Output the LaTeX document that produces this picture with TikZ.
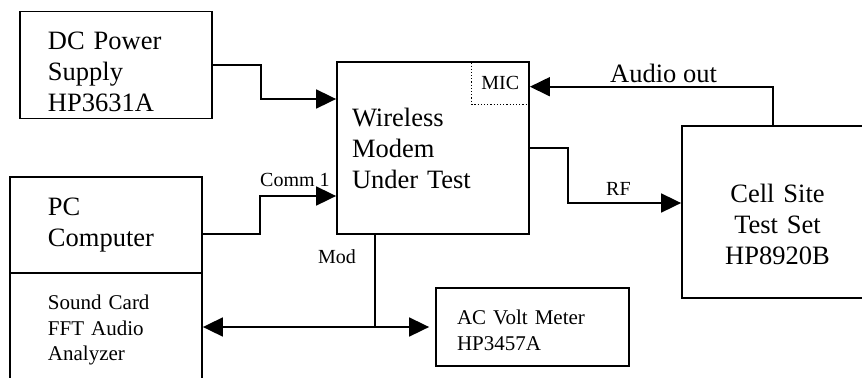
\documentclass[tikz,border=0pt]{standalone}
\usepackage{fontspec}
\setmainfont{Liberation Serif}
\usetikzlibrary{arrows.meta}
\newcommand{\boxfont}{\fontsize{26.5bp}{31bp}\selectfont}
\newcommand{\subfont}{\fontsize{21bp}{25.5bp}\selectfont}
\newcommand{\linkfont}{\fontsize{20bp}{24bp}\selectfont}
\tikzset{
  unit/.style={draw=black,line width=1.8bp,align=left,inner ysep=0pt,font=\boxfont},
  subunit/.style={unit,font=\subfont},
  micport/.style={draw=black,line width=1.2bp,dotted,inner sep=0pt,minimum width=58bp,minimum height=43bp,font=\linkfont},
  flow/.style={-{Triangle[length=20bp,width=19bp]},line width=1.8bp,draw=black},
  wire/.style={line width=1.8bp,draw=black},
  linklabel/.style={anchor=base west,inner sep=0pt,font=\linkfont}
}
\begin{document}
\begin{tikzpicture}[x=1bp,y=-1bp]
  \clip (0,0) rectangle (862,377);
  \node[unit,text width=136bp,inner xsep=28bp,minimum height=107bp] (dc) at (116,65) {\rule{0pt}{31bp}DC Power\\Supply\\HP3631A};
  \node[unit,text width=162bp,inner xsep=15bp,minimum height=172bp] (modem) at (433,148) {Wireless\\Modem\\Under Test};
  \node[micport,anchor=north east] (mic) at (modem.north east) {MIC};
  \node[unit,text width=116bp,inner xsep=38bp,minimum height=96bp] (pc) at (106,225) {PC\\Computer};
  \node[subunit,text width=116bp,inner xsep=38bp,minimum height=108bp] (sound) at (106,327) {\rule{0pt}{21bp}Sound Card\\FFT Audio\\Analyzer};
  \node[subunit,text width=151bp,inner xsep=21bp,minimum height=78bp] (meter) at (532.5,327) {\rule{0pt}{21bp}AC Volt Meter\\HP3457A};
  \node[unit,align=center,text width=191bp,inner xsep=0pt,minimum height=172bp] (cell) at (777.5,212) {\rule{0pt}{44bp}Cell Site\\Test Set\\HP8920B};
  \coordinate (modjoin) at (375,327);
  % connectors
  \draw[flow] (dc.east) -- ++(48,0) |- ([yshift=49bp]modem.west);
  \draw[flow] ([yshift=-9bp]pc.east) -- ++(57,0) |- ([yshift=-48bp]modem.west);
  \draw[wire] (modem.south -| modjoin) -- (modjoin);
  \draw[flow] (modjoin) -- (sound.east);
  \draw[flow] (modjoin) -- ([xshift=-6bp]meter.west);
  \draw[flow] (modem.east) -- ++(38,0) |- ([yshift=9bp]cell.west);
  \draw[flow] ([xshift=-4.5bp]cell.north) |- ([yshift=-3.5bp]mic.east);
  % labels
  \node[linklabel] (commlabel) at (260,186) {Comm 1};
  \node[linklabel] (modlabel) at (318,263) {Mod};
  \node[linklabel] (rflabel) at (606,195) {RF};
  \node[linklabel,font=\boxfont] (audiolabel) at (610,82) {Audio out};
\end{tikzpicture}
\end{document}
